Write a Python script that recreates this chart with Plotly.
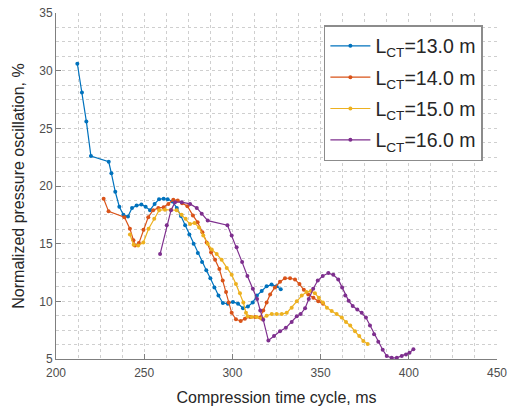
import plotly.graph_objects as go

# ---- data ----
x_13 = [212.1, 214.7, 217.2, 219.8, 229.9, 231.4, 233.6, 235.9, 238.2, 240.8,
        243.1, 245.7, 248.4, 250.8, 253.3, 255.9, 258.4, 261.0, 263.3, 266.0,
        268.5, 270.8, 273.2, 275.6, 278.0, 280.4, 282.8, 285.2, 287.5, 289.8,
        292.1, 294.6, 297.4, 300.3, 303.2, 306.0, 308.8, 311.5, 313.9, 316.6,
        319.4, 322.2, 325.0, 327.4]
y_13 = [30.6, 28.1, 25.6, 22.6, 22.1, 21.1, 19.5, 18.2, 17.5, 17.35,
        18.1, 18.3, 18.4, 18.2, 17.9, 18.45, 18.85, 18.9, 18.85, 18.65,
        18.1, 17.4, 16.6, 15.8, 15.0, 14.2, 13.4, 12.7, 12.0, 11.2,
        10.5, 9.85, 9.8, 9.95, 9.8, 9.4, 9.55, 9.9, 10.5, 10.9,
        11.3, 11.45, 11.3, 11.05]

x_14 = [227.0, 229.8, 238.8, 241.9, 243.9, 244.8, 247.0, 249.6, 252.3, 255.1,
        258.0, 261.0, 263.7, 266.5, 269.0, 271.5, 274.5, 277.6, 280.3, 283.0,
        285.4, 287.9, 290.2, 292.6, 294.5, 296.4, 297.9, 299.6, 302.0, 304.7,
        307.1, 310.0, 312.8, 315.6, 317.5, 319.4, 321.4, 324.1, 327.0, 329.8,
        332.7, 335.5, 338.0, 340.5, 343.0, 345.9, 348.7, 351.4]
y_14 = [18.9, 17.8, 17.3, 16.3, 15.3, 14.85, 15.05, 16.2, 17.3, 17.9,
        18.1, 18.15, 18.45, 18.8, 18.75, 18.5, 18.25, 17.45, 16.85, 16.0,
        15.1, 14.25, 13.6, 12.8, 11.8, 10.8, 9.9, 9.0, 8.45, 8.3,
        8.5, 8.65, 8.65, 8.6, 9.2, 9.9, 10.6, 11.2, 11.7, 12.0,
        12.0, 11.9, 11.5, 11.0, 10.6, 10.3, 10.0, 9.8]

x_15 = [241.9, 244.0, 246.6, 249.5, 252.5, 255.7, 258.5, 261.8, 265.2, 268.4,
        271.2, 273.5, 276.0, 278.5, 281.1, 283.5, 286.0, 288.3, 291.1, 293.9,
        296.8, 299.6, 302.0, 304.3, 306.2, 307.7, 308.6, 311.0, 313.8, 316.6,
        319.4, 322.3, 325.1, 328.0, 330.8, 333.6, 336.5, 339.3, 342.0, 344.5,
        346.8, 349.0, 351.3, 353.6, 356.3, 359.1, 362.0, 364.4, 366.8, 369.5,
        371.9, 374.2, 376.7]
y_15 = [15.8, 14.9, 14.85, 15.1, 16.3, 17.15, 17.9, 17.95, 17.95, 17.9,
        17.5, 17.15, 16.7, 16.8, 16.4, 15.7, 15.0, 14.5, 14.1, 13.6,
        12.9, 12.3, 11.5, 10.7, 9.9, 9.0, 8.7, 8.65, 8.65, 8.5,
        8.75, 8.9, 8.9, 8.9, 9.0, 9.45, 10.0, 10.5, 10.8, 10.9,
        10.7, 10.3, 9.9, 9.45, 9.17, 8.9, 8.6, 8.2, 7.9, 7.4,
        7.0, 6.57, 6.3]

x_16 = [259.0, 262.8, 265.2, 267.5, 271.2, 276.0, 279.8, 282.6, 286.0, 297.2,
        299.6, 302.4, 305.5, 308.5, 311.6, 314.0, 315.8, 317.5, 320.4, 323.6,
        327.0, 330.3, 333.6, 336.5, 338.7, 341.2, 343.3, 345.8, 348.4, 351.2,
        354.4, 357.2, 360.0, 362.2, 364.0, 365.9, 368.2, 370.8, 373.3, 375.7,
        378.0, 380.3, 382.7, 385.2, 387.5, 390.3, 393.2, 396.0, 398.4, 400.4,
        402.6]
y_16 = [14.1, 16.6, 17.9, 18.6, 18.6, 18.45, 18.1, 17.6, 17.0, 16.6,
        15.7, 14.7, 13.4, 12.2, 11.1, 10.2, 9.2, 8.4, 6.6, 7.0,
        7.4, 7.7, 8.2, 8.7, 8.9, 9.4, 10.2, 11.1, 11.8, 12.2,
        12.45, 12.3, 11.9, 11.2, 10.5, 10.04, 9.6, 9.3, 9.0, 8.6,
        7.9, 7.15, 6.5, 5.8, 5.26, 5.1, 5.1, 5.26, 5.4, 5.55,
        5.85]

series_names = ["L<sub>CT</sub>=13.0 m", "L<sub>CT</sub>=14.0 m",
                "L<sub>CT</sub>=15.0 m", "L<sub>CT</sub>=16.0 m"]
colors = ["#0072BD", "#D95319", "#EDB120", "#7E2F8E"]

fig = go.Figure()
for i, (xs, ys, name, c) in enumerate(zip([x_13, x_14, x_15, x_16],
                                          [y_13, y_14, y_15, y_16],
                                          series_names, colors)):
    fig.add_trace(go.Scatter(x=xs, y=ys, name=name, mode="lines+markers",
                             legendgroup="g%d" % i,
                             line=dict(color=c, width=1.2),
                             marker=dict(color=c, size=4)))

grid_col = "#cfcfcf"
axis_common = dict(
    showline=True, linecolor="#7f7f7f", linewidth=1,
    ticks="inside", ticklen=5, tickcolor="#7f7f7f",
    showgrid=True, gridcolor=grid_col, griddash="dot", gridwidth=1,
    zeroline=False, mirror=False, automargin=False,
    tickfont=dict(family="Liberation Sans, Arial", size=12, color="#4d4d4d"),
)

fig.update_layout(
    width=509, height=411,
    margin=dict(l=56, r=12, t=13, b=52),
    paper_bgcolor="white", plot_bgcolor="white",
    font=dict(family="Liberation Sans, Arial", color="#262626"),
    xaxis=dict(range=[200, 450], dtick=50, tick0=200, ticklabelstandoff=3,
               minor=dict(dtick=12.5, tick0=200, showgrid=True, gridcolor=grid_col,
                          griddash="dot", ticks=""),
               title=dict(text="Compression time cycle, ms",
                          font=dict(size=16, color="#262626"), standoff=12),
               **axis_common),
    yaxis=dict(range=[5, 35], dtick=5, tick0=5,
               minor=dict(dtick=1.25, tick0=5, showgrid=True, gridcolor=grid_col,
                          griddash="dot", ticks=""),
               title=dict(text="Normalized pressure oscillation, %",
                          font=dict(size=16, color="#262626"), standoff=10),
               **axis_common),
    legend=dict(x=0.968, y=0.965, xanchor="right", yanchor="top",
                bgcolor="white", bordercolor="#8c8c8c", borderwidth=1.5,
                font=dict(family="Liberation Sans, Arial", size=19.5, color="#262626"),
                tracegroupgap=3, itemwidth=40),
    showlegend=True,
)

fig.write_html("out.html",
               config={"displayModeBar": False},
               post_script="document.body.style.margin='0px';"
                           "document.body.style.overflow='hidden';")
